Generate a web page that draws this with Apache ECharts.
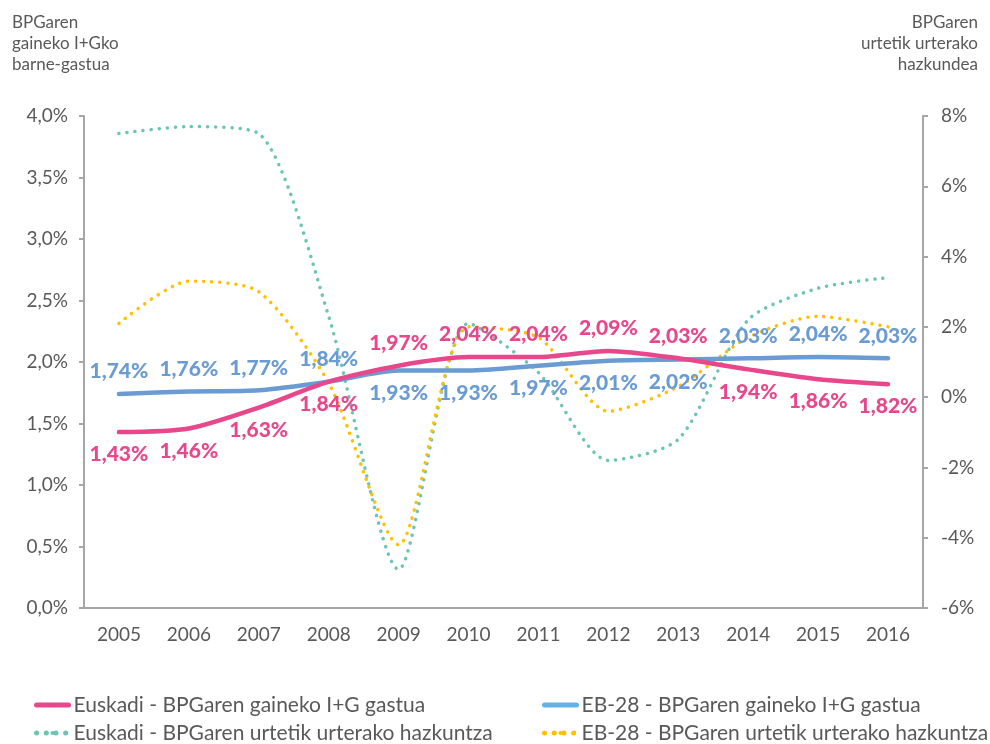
<!DOCTYPE html>
<html>
<head>
<meta charset="utf-8">
<script src="https://cdn.jsdelivr.net/npm/echarts@6/dist/echarts.min.js"></script>
<style>
  html, body { margin: 0; padding: 0; background: #fff; }
  #chart { width: 990px; height: 744px; }
</style>
</head>
<body>
<div id="chart"></div>
<script>
// urteak
const years = ['2005', '2006', '2007', '2008', '2009', '2010', '2011', '2012', '2013', '2014', '2015', '2016'];
// BPGaren gaineko I+G gastua (%)
const euskadiGastua = [1.43, 1.46, 1.63, 1.84, 1.97, 2.04, 2.04, 2.09, 2.03, 1.94, 1.86, 1.82];
const eb28Gastua = [1.74, 1.76, 1.77, 1.84, 1.93, 1.93, 1.97, 2.01, 2.02, 2.03, 2.04, 2.03];
// BPGaren urtetik urterako hazkuntza (%), irakurrita
const euskadiHazkuntza = [7.5, 7.7, 7.5, 2.3, -4.9, 2.1, 0.7, -1.8, -1.2, 2.2, 3.1, 3.4];
const eb28Hazkuntza = [2.1, 3.3, 3.0, 0.4, -4.2, 2.0, 1.7, -0.4, 0.3, 1.7, 2.3, 2.0];

const names = [
  'Euskadi - BPGaren gaineko I+G gastua',
  'EB-28 - BPGaren gaineko I+G gastua',
  'Euskadi - BPGaren urtetik urterako hazkuntza',
  'EB-28 - BPGaren urtetik urterako hazkuntza'
];

const PINK = '#e8478b', BLUE = '#6a9bd3', TEAL = '#6cc4b3', YELLOW = '#ffc000';
const LEGEND_BLUE = '#62b4e8';
const GREY = '#595959', AXIS = '#a6a6a6';
const FONT = 'Lato, "Open Sans", sans-serif';

const fmt = v => v.toFixed(2).replace('.', ',') + '%';

// etiketa goian ala behean, beste lerroaren arabera
function labelled(vals, other, aboveIfGreater) {
  return vals.map((v, i) => {
    let above = aboveIfGreater ? v > other[i] : v >= other[i];
    return { value: v, label: { position: above ? 'top' : 'bottom' } };
  });
}

// legendako elementua: marra osoa ala 4 puntu
function legendItem(name, color, dotted) {
  return {
    name: name,
    itemStyle: { color: color },
    lineStyle: dotted
      ? { color: color, width: 5, type: [0.1, 9.6], cap: 'round' }
      : { color: color, width: 5, type: 'solid', cap: 'round' }
  };
}

const legendText = { fontSize: 21, lineHeight: 22, color: GREY, fontFamily: FONT };
const legendBase = {
  orient: 'vertical', top: 694, padding: 0, height: 60,
  itemWidth: 32, itemHeight: 5, itemGap: 6,
  textStyle: legendText
};

const chart = echarts.init(document.getElementById('chart'));
const option = {
  animation: false,
  textStyle: { fontFamily: FONT },
  graphic: [
    {
      type: 'text', x: 12, y: 12,
      style: { text: 'BPGaren\ngaineko I+Gko\nbarne-gastua', fill: GREY, font: '17px ' + FONT, lineHeight: 21, align: 'left' }
    },
    {
      type: 'text', x: 978, y: 12,
      style: { text: 'BPGaren\nurtetik urterako\nhazkundea', fill: GREY, font: '17px ' + FONT, lineHeight: 21, align: 'right' }
    }
  ],
  legend: [
    Object.assign({}, legendBase, {
      left: 34, itemTextGap: 16,
      data: [legendItem(names[0], PINK, false), legendItem(names[2], TEAL, true)]
    }),
    Object.assign({}, legendBase, {
      left: 542, itemTextGap: 14,
      data: [legendItem(names[1], LEGEND_BLUE, false), legendItem(names[3], YELLOW, true)]
    })
  ],
  grid: { left: 84, right: 67, top: 116, bottom: 136 },
  xAxis: {
    type: 'category',
    data: years,
    axisLine: { lineStyle: { color: AXIS, width: 2 } },
    axisTick: { alignWithLabel: true, length: 5, lineStyle: { color: AXIS, width: 2 } },
    axisLabel: { fontSize: 19, color: GREY, margin: 17 }
  },
  yAxis: [
    {
      type: 'value', min: 0, max: 4, interval: 0.5,
      axisLine: { show: true, lineStyle: { color: AXIS, width: 2 } },
      axisTick: { show: true, length: 5, lineStyle: { color: AXIS, width: 2 } },
      splitLine: { show: false },
      axisLabel: { fontSize: 19, color: GREY, margin: 16, formatter: v => v.toFixed(1).replace('.', ',') + '%' }
    },
    {
      type: 'value', min: -6, max: 8, interval: 2,
      axisLine: { show: true, lineStyle: { color: AXIS, width: 2 } },
      axisTick: { show: true, length: 5, lineStyle: { color: AXIS, width: 2 } },
      splitLine: { show: false },
      axisLabel: { fontSize: 19, color: GREY, margin: 18, formatter: v => v + '%' }
    }
  ],
  series: [
    {
      name: names[2], type: 'line', yAxisIndex: 1, smooth: 0.25, symbol: 'none',
      data: euskadiHazkuntza,
      lineStyle: { color: TEAL, width: 3.5, type: [0.1, 8], cap: 'round' },
      itemStyle: { color: TEAL },
      z: 1
    },
    {
      name: names[3], type: 'line', yAxisIndex: 1, smooth: 0.25, symbol: 'none',
      data: eb28Hazkuntza,
      lineStyle: { color: YELLOW, width: 3.5, type: [0.1, 8], cap: 'round' },
      itemStyle: { color: YELLOW },
      z: 1
    },
    {
      name: names[1], type: 'line', smooth: 0.25, symbol: 'circle', symbolSize: 0,
      data: labelled(eb28Gastua, euskadiGastua, false),
      lineStyle: { color: BLUE, width: 4.5, cap: 'round' },
      itemStyle: { color: BLUE },
      label: {
        show: true, distance: 12, fontSize: 21, fontWeight: 900, color: BLUE, fontFamily: FONT,
        formatter: p => fmt(p.value)
      },
      z: 3
    },
    {
      name: names[0], type: 'line', smooth: 0.25, symbol: 'circle', symbolSize: 0,
      data: labelled(euskadiGastua, eb28Gastua, true),
      lineStyle: { color: PINK, width: 4.5, cap: 'round' },
      itemStyle: { color: PINK },
      label: {
        show: true, distance: 12, fontSize: 21, fontWeight: 900, color: PINK, fontFamily: FONT,
        formatter: p => fmt(p.value)
      },
      z: 4
    }
  ]
};
chart.setOption(option);
</script>
</body>
</html>
